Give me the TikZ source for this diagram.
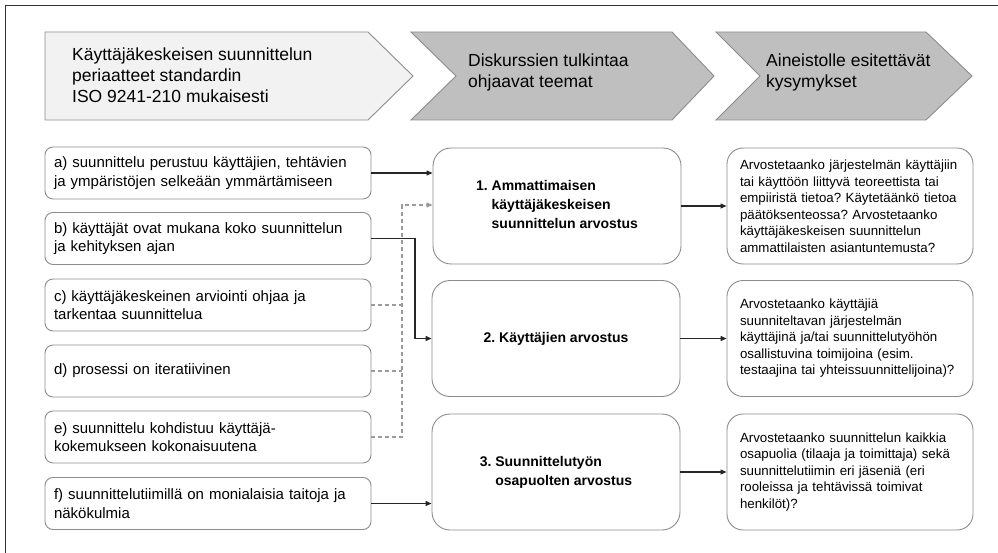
\documentclass[tikz,border=0pt]{standalone}
\usepackage{fontspec}
\setmainfont{Liberation Sans}
\frenchspacing
\usetikzlibrary{arrows.meta}
\definecolor{chevlight}{HTML}{F2F2F2}
\definecolor{chevdark}{HTML}{BFBFBF}
\definecolor{edgegray}{HTML}{8C8C8C}
\definecolor{linkdark}{HTML}{262626}
\definecolor{dashgray}{HTML}{9A9A9A}
\definecolor{framegray}{HTML}{333333}
\begin{document}
\begin{tikzpicture}[x=1pt,y=-1pt,
  chev/.style={draw=edgegray, line width=0.9pt},
  chevtext/.style={anchor=west, align=left, inner sep=0pt, font=\fontsize{17.5}{21}\selectfont},
  principle/.style={draw=edgegray, line width=0.9pt, rounded corners=8pt, minimum height=52pt,
    text width=308pt, inner xsep=9pt, inner ysep=0pt, align=left, font=\fontsize{15}{18.5}\selectfont},
  theme/.style={draw=edgegray, line width=0.9pt, rounded corners=18pt, minimum width=248pt,
    minimum height=116pt, inner sep=0pt, font=\bfseries\fontsize{14}{19}\selectfont},
  question/.style={draw=edgegray, line width=0.9pt, rounded corners=16pt, minimum height=116pt,
    text width=220pt, inner xsep=13pt, inner ysep=0pt, align=left, font=\fontsize{13.3}{16.5}\selectfont},
  tip/.style={-{Triangle[length=6pt,width=5pt]}},
  link/.style={draw=linkdark, line width=1.2pt, tip},
  dashlink/.style={draw=dashgray, line width=1.2pt, dash pattern=on 4pt off 3pt}
]
\useasboundingbox (0,0) rectangle (998,553);

% outer frame (top and left edges)
\draw[framegray, line width=1pt] (5.5,553) -- (5.5,5.5) -- (998,5.5);

% header chevrons
\filldraw[chev, fill=chevlight] (45,32) -- (368,32) -- (413,76) -- (368,120) -- (45,120) -- cycle;
\filldraw[chev, fill=chevdark] (411,32) -- (672,32) -- (714,76) -- (672,120) -- (411,120) -- (456,76) -- cycle;
\filldraw[chev, fill=chevdark] (716,32) -- (926,32) -- (972,76) -- (926,120) -- (716,120) -- (760,76) -- cycle;
\node[chevtext] (h1) at (72,75) {Käyttäjäkeskeisen suunnittelun\\periaatteet standardin\\ISO 9241-210 mukaisesti};
\node[chevtext] (h2) at (468,72) {Diskurssien tulkintaa\\ohjaavat teemat};
\node[chevtext] (h3) at (766,72) {Aineistolle esitettävät\\kysymykset};

% principles
\node[principle] (pa) at (208,173) {a) suunnittelu perustuu käyttäjien, tehtävien\\ja ympäristöjen selkeään ymmärtämiseen};
\node[principle] (pb) at (208,238.5) {b) käyttäjät ovat mukana koko suunnittelun\\ja kehityksen ajan};
\node[principle] (pc) at (208,305) {c) käyttäjäkeskeinen arviointi ohjaa ja\\tarkentaa suunnittelua};
\node[principle] (pd) at (208,371) {d) prosessi on iteratiivinen};
\node[principle] (pe) at (208,437) {e) suunnittelu kohdistuu käyttäjä-\\kokemukseen kokonaisuutena};
\node[principle] (pf) at (208,503.5) {f) suunnittelutiimillä on monialaisia taitoja ja\\näkökulmia};

% themes
\node[theme] (m1) at (557,206) {\begin{tabular}{@{}l@{ }l@{}}1. & Ammattimaisen\\ & käyttäjäkeskeisen\\ & suunnittelun arvostus\end{tabular}};
\node[theme] (m2) at (556,338.5) {2. Käyttäjien arvostus};
\node[theme] (m3) at (556,472) {\begin{tabular}{@{}l@{ }l@{}}3. & Suunnittelutyön\\ & osapuolten arvostus\end{tabular}};

% questions
\node[question] (r1) at (850,206) {Arvostetaanko järjestelmän käyttäjiin\\tai käyttöön liittyvä teoreettista tai\\empiiristä tietoa? Käytetäänkö tietoa\\päätöksenteossa? Arvostetaanko\\käyttäjäkeskeisen suunnittelun\\ammattilaisten asiantuntemusta?};
\node[question] (r2) at (850,338.5) {Arvostetaanko käyttäjiä\\suunniteltavan järjestelmän\\käyttäjinä ja/tai suunnittelutyöhön\\osallistuvina toimijoina (esim.\\testaajina tai yhteissuunnittelijoina)?};
\node[question] (r3) at (850,472) {Arvostetaanko suunnittelun kaikkia\\osapuolia (tilaaja ja toimittaja) sekä\\suunnittelutiimin eri jäseniä (eri\\rooleissa ja tehtävissä toimivat\\henkilöt)?};

% routing points
\coordinate (trunk) at (402,205);
\coordinate (bx) at (415,0);

% dashed collector from c, d, e to theme 1
\draw[dashlink] (pc.east) -- (pc.east -| trunk);
\draw[dashlink] (pd.east) -- (pd.east -| trunk);
\draw[dashlink, tip] (pe.east) -| (trunk) -- (trunk -| m1.west);

% solid links
\draw[link] (pa.east) -- (pa.east -| m1.west);
\draw[link] (pb.east) -- (pb.east -| bx) |- (m2.west);
\draw[link] (pf.east) -- (pf.east -| m3.west);
\draw[link] (m1.east) -- (r1.west);
\draw[link] (m2.east) -- (r2.west);
\draw[link] (m3.east) -- (r3.west);
\end{tikzpicture}
\end{document}
